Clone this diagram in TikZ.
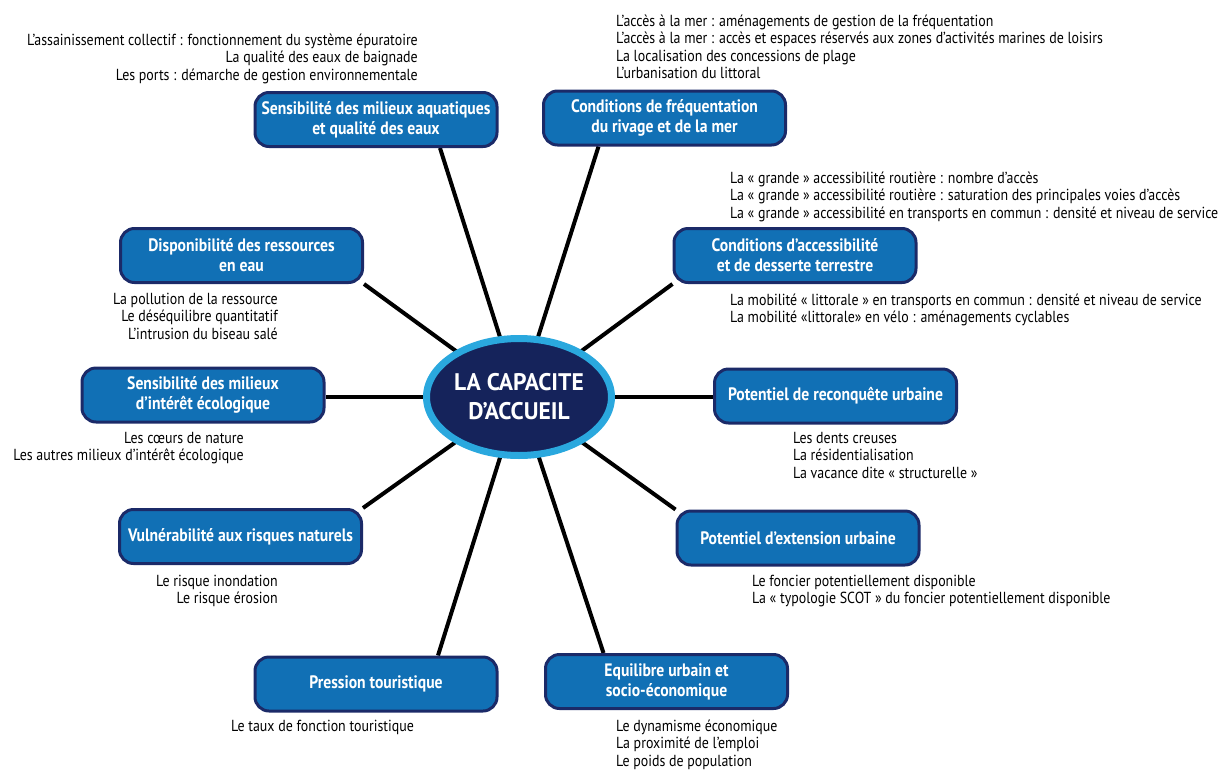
\documentclass[tikz,border=0pt]{standalone}
\usepackage{fontspec}
\setmainfont{PT Sans}[FakeStretch=0.87]
\newfontfamily\centerfont{PT Sans}[FakeStretch=0.98]
\usetikzlibrary{calc,backgrounds,shapes.geometric}
\definecolor{boxblue}{HTML}{1170B5}
\definecolor{navy}{HTML}{1B2A68}
\definecolor{ellnavy}{HTML}{15235B}
\definecolor{ringblue}{HTML}{2AA8DE}
\begin{document}
\begin{tikzpicture}[x=1pt,y=-1pt,
  bx/.style={draw=navy, fill=boxblue, line width=3pt, rounded corners=14pt,
    minimum width=242pt, minimum height=54pt, align=center, text=white,
    font=\fontsize{18}{20}\selectfont\bfseries, inner sep=2pt},
  spoke/.style={line width=4pt, black},
  notel/.style={anchor=north west, align=left, inner sep=0pt, font=\fontsize{16}{17.5}\selectfont},
  noter/.style={anchor=north east, align=right, inner sep=0pt, font=\fontsize{16}{17.5}\selectfont}]
\useasboundingbox (0,0) rectangle (1219,769);

% center
\node[ellipse, fill=ellnavy, draw=ringblue, line width=7pt,
  minimum width=185pt, minimum height=117pt, inner sep=0pt, text=white, align=center,
  font=\centerfont\fontsize{24}{29}\selectfont\bfseries] (c) at (519,397) {LA CAPACITE\\D’ACCUEIL};

% boxes
\node[bx] (b1) at (376,119.5) {Sensibilité des milieux aquatiques\\et qualité des eaux};
\node[bx] (b2) at (664.5,118) {Conditions de fréquentation\\du rivage et de la mer};
\node[bx] (b3) at (241.5,255.5) {Disponibilité des ressources\\en eau};
\node[bx] (b4) at (795,255.5) {Conditions d’accessibilité\\et de desserte terrestre};
\node[bx] (b5) at (203,395) {Sensibilité des milieux\\d’intérêt écologique};
\node[bx] (b6) at (835.5,396) {Potentiel de reconquête urbaine};
\node[bx] (b7) at (240.5,536.5) {Vulnérabilité aux risques naturels};
\node[bx] (b8) at (798,538) {Potentiel d’extension urbaine};
\node[bx] (b9) at (376,684) {Pression touristique};
\node[bx] (b10) at (666.5,681.5) {Equilibre urbain et\\socio-économique};

% spokes
\begin{scope}[on background layer]
\draw[spoke] (c.center) -- ($(b1.south)+(64,0)$);
\draw[spoke] (c.center) -- ($(b2.south)+(-66,0)$);
\draw[spoke] (c.center) -- (b3.south east);
\draw[spoke] (c.center) -- (b4.south west);
\draw[spoke] (c.center) -- (b5.east |- c.center);
\draw[spoke] (c.center) -- (b6.west |- c.center);
\draw[spoke] (c.center) -- (b7.north east);
\draw[spoke] (c.center) -- (b8.north west);
\draw[spoke] (c.center) -- ($(b9.north)+(62,0)$);
\draw[spoke] (c.center) -- ($(b10.north)+(-63,0)$);
\end{scope}

% notes
\node[noter] (n1) at (418,33) {\rule{0pt}{12pt}L’assainissement collectif : fonctionnement du système épuratoire\\La qualité des eaux de baignade\\Les ports : démarche de gestion environnementale};
\node[notel] (n2) at (616,14) {\rule{0pt}{12pt}L’accès à la mer : aménagements de gestion de la fréquentation\\L’accès à la mer : accès et espaces réservés aux zones d’activités marines de loisirs\\La localisation des concessions de plage\\L’urbanisation du littoral};
\node[noter] (n3) at (278,292) {\rule{0pt}{12pt}La pollution de la ressource\\Le déséquilibre quantitatif\\L’intrusion du biseau salé};
\node[notel] (n4a) at (730,171) {\rule{0pt}{12pt}La « grande » accessibilité routière : nombre d’accès\\La « grande » accessibilité routière : saturation des principales voies d’accès\\La « grande » accessibilité en transports en commun : densité et niveau de service};
\node[notel] (n4b) at (730,293) {\rule{0pt}{12pt}La mobilité « littorale » en transports en commun : densité et niveau de service\\La mobilité «littorale» en vélo : aménagements cyclables};
\node[noter] (n5) at (244,431) {\rule{0pt}{12pt}Les cœurs de nature\\Les autres milieux d’intérêt écologique};
\node[notel] (n6) at (793,431) {\rule{0pt}{12pt}Les dents creuses\\La résidentialisation\\La vacance dite « structurelle »};
\node[noter] (n7) at (278,574) {\rule{0pt}{12pt}Le risque inondation\\Le risque érosion};
\node[notel] (n8) at (752,574) {\rule{0pt}{12pt}Le foncier potentiellement disponible\\La « typologie SCOT » du foncier potentiellement disponible};
\node[notel] (n9) at (231,719) {\rule{0pt}{12pt}Le taux de fonction touristique};
\node[notel] (n10) at (616,719) {\rule{0pt}{12pt}Le dynamisme économique\\La proximité de l’emploi\\Le poids de population};
\end{tikzpicture}
\end{document}
